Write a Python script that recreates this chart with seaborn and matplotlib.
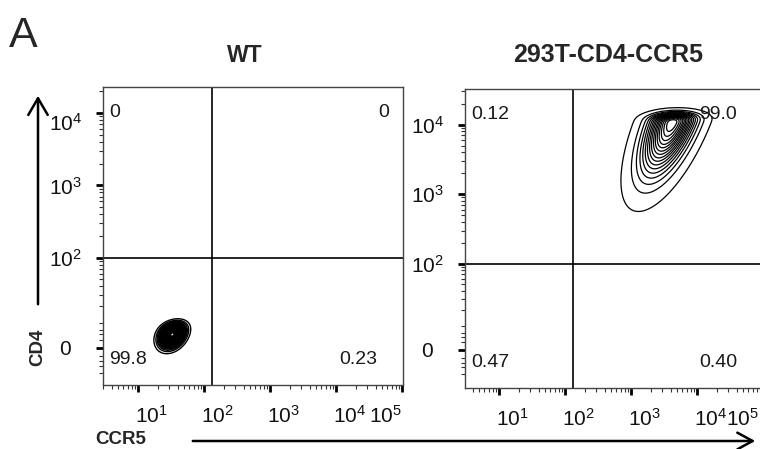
import numpy as np
import pandas as pd
import matplotlib
matplotlib.use("Agg")
import matplotlib.pyplot as plt
import seaborn as sns
from matplotlib.ticker import FixedLocator, NullFormatter
from matplotlib.patches import FancyArrowPatch
from matplotlib.transforms import ScaledTranslation

# ---------------- data ----------------
panel_titles = ["WT", "293T-CD4-CCR5"]
x_label = "CCR5"
y_label = "CD4"
x_ticks = [1e1, 1e2, 1e3, 1e4, 1e5]
x_tick_labels = [r"$\mathregular{10^{1}}$", r"$\mathregular{10^{2}}$", r"$\mathregular{10^{3}}$",
                 r"$\mathregular{10^{4}}$", r"$\mathregular{10^{5}}$"]
y_ticks = [0, 1e2, 1e3, 1e4]
y_tick_labels = ["0", r"$\mathregular{10^{2}}$", r"$\mathregular{10^{3}}$", r"$\mathregular{10^{4}}$"]
gate_x = 130
gate_y = 100
# quadrant percentages: upper-left, upper-right, lower-left, lower-right
wt_quadrants = ["0", "0", "99.8", "0.23"]
ccr5_quadrants = ["0.12", "99.0", "0.47", "0.40"]

# WT population (log10 CCR5, linear CD4 near zero)
wt_mode_log_x = 1.52
wt_mode_y = 5.0
wt_sd_log_x = 0.105
wt_sd_y = 2.7
wt_rho = 0.3

# 293T-CD4-CCR5 population (log10 CCR5, log10 CD4), skewed downwards-left
ccr5_mode_log_x = 3.64
ccr5_mode_log_y = 4.07
ccr5_sd_log_x = 0.21
ccr5_sd_log_y_up = 0.055
ccr5_sd_log_y_down = 0.47
ccr5_tail_slope = 0.40

# ---------------- style ----------------
sns.set_style("ticks")
plt.rcParams['font.family'] = ['Liberation Sans', 'DejaVu Sans']
plt.rcParams['mathtext.fontset'] = 'custom'
plt.rcParams['mathtext.rm'] = 'Liberation Sans'
plt.rcParams['mathtext.it'] = 'Liberation Sans'
plt.rcParams['mathtext.bf'] = 'Liberation Sans:bold'

C = 11.5


def fwd(y):
    return np.arcsinh(np.asarray(y, dtype=float) / C)


def inv(v):
    return C * np.sinh(np.asarray(v, dtype=float))


def frame_from_grid(gx, gy, dens, log_y):
    keep = dens > dens.max() * 2e-4
    return pd.DataFrame({
        "x": 10 ** gx[keep],
        "y": (10 ** gy[keep]) if log_y else gy[keep],
        "w": dens[keep],
    })


# WT grid
gx, gy = np.meshgrid(np.linspace(1.0, 2.05, 110), np.linspace(-10, 20, 110))
dx = (gx - wt_mode_log_x) / wt_sd_log_x
dy = (gy - wt_mode_y) / wt_sd_y
wt_dens = np.exp(-0.5 * (dx * dx - 2 * wt_rho * dx * dy + dy * dy) / (1 - wt_rho ** 2))
wt_df = frame_from_grid(gx, gy, wt_dens, log_y=False)

# CCR5 grid
gu, gv = np.meshgrid(np.linspace(2.2, 4.8, 130), np.linspace(2.0, 4.6, 130))
dv = gv - ccr5_mode_log_y
sdv = np.where(dv > 0, ccr5_sd_log_y_up, ccr5_sd_log_y_down)
mu = ccr5_mode_log_x + ccr5_tail_slope * dv
ccr5_dens = np.exp(-0.5 * ((gu - mu) / ccr5_sd_log_x) ** 2 - 0.5 * (dv / sdv) ** 2)
ccr5_df = frame_from_grid(gu, gv, ccr5_dens, log_y=True)

W, H = 760, 449
fig = plt.figure(figsize=(W / 100, H / 100), dpi=100)


def px_axes(x0, y0, x1, y1):
    return fig.add_axes([x0 / W, 1 - y1 / H, (x1 - x0) / W, (y1 - y0) / H])


ax1 = px_axes(103, 87, 403, 385)
ax2 = px_axes(465, 89, 763, 388)

sns.kdeplot(data=wt_df, x="x", y="y", weights="w", log_scale=(True, False),
            levels=np.linspace(0.03, 0.97, 30), bw_adjust=0.35, gridsize=120,
            color="black", linewidths=1.0, ax=ax1)
sns.kdeplot(data=ccr5_df, x="x", y="y", weights="w", log_scale=(True, True),
            levels=np.linspace(0.02, 0.95, 16), bw_adjust=0.35, gridsize=160,
            color="black", linewidths=0.9, ax=ax2)

y_minor = ([-10, -7, -5, -3, 3, 5, 7, 10] +
           [k * 10 ** e for e in range(1, 5) for k in range(2, 10)])
x_minor = [k * 10 ** e for e in range(0, 5) for k in range(2, 10)]

limits = [((10 ** 0.47, 10 ** 5.015), (-17, 22800)),
          ((10 ** 0.485, 10 ** 5.0), (-18.6, 32500))]
quads = [wt_quadrants, ccr5_quadrants]

for ax, (xl, yl), q in zip([ax1, ax2], limits, quads):
    ax.set_xscale("log")
    ax.set_yscale("function", functions=(fwd, inv))
    ax.set_xlim(*xl)
    ax.set_ylim(*yl)
    ax.set_xlabel("")
    ax.set_ylabel("")
    ax.set_xticks(x_ticks, x_tick_labels)
    ax.set_yticks(y_ticks, y_tick_labels)
    ax.xaxis.set_minor_locator(FixedLocator(x_minor))
    ax.yaxis.set_minor_locator(FixedLocator(y_minor))
    ax.xaxis.set_minor_formatter(NullFormatter())
    ax.yaxis.set_minor_formatter(NullFormatter())
    ax.set_xlim(*xl)
    ax.set_ylim(*yl)
    ax.tick_params(axis="both", which="major", direction="out", length=5, width=2.0,
                   labelsize=15, color="black", labelcolor="#111111")
    ax.tick_params(axis="both", which="minor", direction="out", length=3, width=0.8,
                   color="#333333")
    ax.tick_params(axis="x", which="major", pad=9)
    ax.tick_params(axis="y", which="major", pad=22)
    xlabs = ax.get_xticklabels()
    for lab in xlabs[:-1]:
        lab.set_horizontalalignment("left")
        lab.set_transform(lab.get_transform() + ScaledTranslation(-3 / 100, 0, fig.dpi_scale_trans))
    xlabs[-1].set_horizontalalignment("right")
    for lab in ax.get_yticklabels():
        lab.set_horizontalalignment("center")
    for s in ax.spines.values():
        s.set_visible(True)
        s.set_color("#444444")
        s.set_linewidth(1.0)
    ax.axvline(gate_x, color="black", lw=1.2)
    ax.axhline(gate_y, color="black", lw=1.2)
    tkw = dict(transform=ax.transAxes, fontsize=14, color="#1a1a1a", va="center")
    ax.text(0.022, 0.915, q[0], ha="left", **tkw)
    ax.text(0.955 if ax is ax1 else 0.913, 0.915, q[1], ha="right", **tkw)
    ax.text(0.022, 0.085, q[2], ha="left", **tkw)
    ax.text(0.913, 0.085, q[3], ha="right", **tkw)

ax1.get_yticklabels()[-1].set_verticalalignment("top")
last = ax2.get_xticklabels()[-1]
last.set_transform(last.get_transform() + ScaledTranslation(-4 / 100, 0, fig.dpi_scale_trans))

# titles and panel letter
fig.text(245 / W, 1 - 56 / H, panel_titles[0], ha="center", va="center",
         fontsize=16.5, fontweight="bold")
fig.text(608 / W, 1 - 55 / H, panel_titles[1], ha="center", va="center",
         fontsize=18, fontweight="bold")
fig.text(9 / W, 1 - 47 / H, "A", ha="left", va="baseline", fontsize=31)

# axis labels with arrows
fig.text(38 / W, 1 - 347 / H, y_label, rotation=90, ha="center", va="center",
         fontsize=13.5, fontweight="bold")
fig.text(121 / W, 1 - 440 / H, x_label, ha="center", va="center",
         fontsize=13.5, fontweight="bold")
fig.add_artist(FancyArrowPatch((38 / W, 1 - 307 / H), (38 / W, 1 - 93 / H),
                               transform=fig.transFigure,
                               arrowstyle="->,head_length=0.6,head_width=0.35",
                               mutation_scale=20, lw=1.8, color="black"))
fig.add_artist(FancyArrowPatch((190 / W, 1 - 441 / H), (758 / W, 1 - 441 / H),
                               transform=fig.transFigure,
                               arrowstyle="->,head_length=0.55,head_width=0.3",
                               mutation_scale=20, lw=1.8, color="black"))

fig.savefig("out.png", dpi=100)
